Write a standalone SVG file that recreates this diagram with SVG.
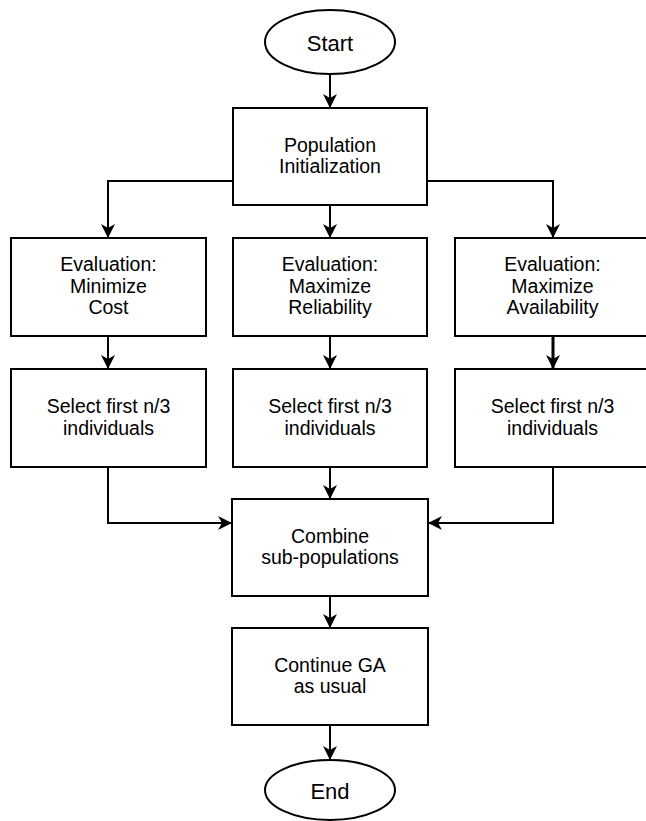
<svg xmlns="http://www.w3.org/2000/svg" width="646" height="821" viewBox="0 0 646 821">
<style>
.n{fill:#fff;stroke:#000;stroke-width:2}
.t{font-family:"Liberation Sans",Arial,Helvetica,sans-serif;font-size:19.5px;fill:#000;text-anchor:middle}
.tb{font-size:22px}
.c{fill:none;stroke:#000;stroke-width:2}
</style>
<defs>
<marker id="a" viewBox="0 0 14 14" refX="14" refY="7" markerWidth="14" markerHeight="14" markerUnits="userSpaceOnUse" orient="auto">
<path d="M0,0 L14,7 L0,14 L4,7 z" fill="#000"/>
</marker>
</defs>
<rect width="646" height="821" fill="#fff"/>
<g id="connectors">
<path class="c" d="M330,74 V108" marker-end="url(#a)"/>
<path class="c" d="M330,205 V238" marker-end="url(#a)"/>
<path class="c" d="M233,181 H108 V238" marker-end="url(#a)"/>
<path class="c" d="M427,181 H553 V238" marker-end="url(#a)"/>
<path class="c" d="M108,336 V369" marker-end="url(#a)"/>
<path class="c" d="M330,336 V369" marker-end="url(#a)"/>
<path class="c" style="stroke-width:3" d="M553,336 V369" marker-end="url(#a)"/>
<path class="c" d="M108,467 V523 H232" marker-end="url(#a)"/>
<path class="c" d="M330,467 V499" marker-end="url(#a)"/>
<path class="c" d="M553,467 V523 H428" marker-end="url(#a)"/>
<path class="c" d="M330,596 V628" marker-end="url(#a)"/>
<path class="c" d="M330,725 V760" marker-end="url(#a)"/>
</g>
<g id="start"><ellipse class="n" cx="330" cy="42" rx="65" ry="32"/><text class="t tb" x="330" y="51">Start</text></g>
<g id="popinit"><rect class="n" x="233" y="108" width="194" height="97"/><text class="t" x="330" y="151.5">Population</text><text class="t" x="330" y="173">Initialization</text></g>
<g id="evalcost"><rect class="n" x="11" y="238" width="195" height="98"/><text class="t" x="108.5" y="271">Evaluation:</text><text class="t" x="108.5" y="292.5">Minimize</text><text class="t" x="108.5" y="314">Cost</text></g>
<g id="evalrel"><rect class="n" x="233" y="238" width="194" height="98"/><text class="t" x="330" y="271">Evaluation:</text><text class="t" x="330" y="292.5">Maximize</text><text class="t" x="330" y="314">Reliability</text></g>
<g id="evalavail"><rect class="n" x="455" y="238" width="195" height="98"/><text class="t" x="552.5" y="271">Evaluation:</text><text class="t" x="552.5" y="292.5">Maximize</text><text class="t" x="552.5" y="314">Availability</text></g>
<g id="sel1"><rect class="n" x="11" y="369" width="195" height="98"/><text class="t" x="108.5" y="413">Select first n/3</text><text class="t" x="108.5" y="434.5">individuals</text></g>
<g id="sel2"><rect class="n" x="233" y="369" width="194" height="98"/><text class="t" x="330" y="413">Select first n/3</text><text class="t" x="330" y="434.5">individuals</text></g>
<g id="sel3"><rect class="n" x="455" y="369" width="195" height="98"/><text class="t" x="552.5" y="413">Select first n/3</text><text class="t" x="552.5" y="434.5">individuals</text></g>
<g id="combine"><rect class="n" x="232" y="499" width="196" height="97"/><text class="t" x="330" y="542.5">Combine</text><text class="t" x="330" y="564">sub-populations</text></g>
<g id="continue"><rect class="n" x="232" y="628" width="196" height="97"/><text class="t" x="330" y="671.5">Continue GA</text><text class="t" x="330" y="693">as usual</text></g>
<g id="end"><ellipse class="n" cx="330" cy="790" rx="65" ry="30"/><text class="t tb" x="330" y="799">End</text></g>
</svg>
